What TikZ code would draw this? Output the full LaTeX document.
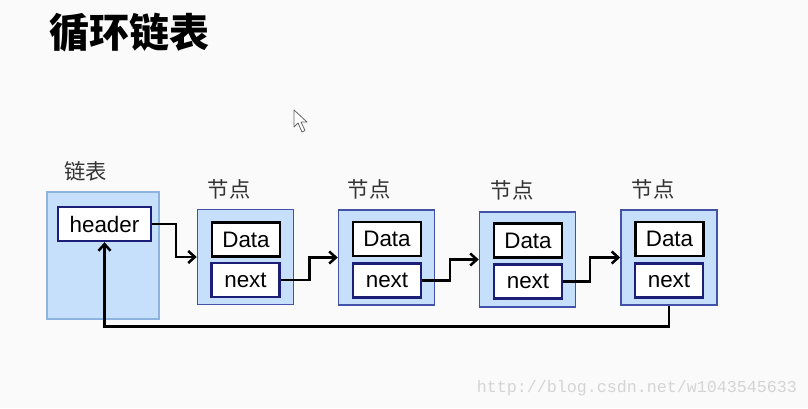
\documentclass[tikz,border=0pt]{standalone}
\usepackage{fontspec}
\setmainfont{Liberation Sans}
\newfontfamily\cjk{Noto Sans CJK SC}
\newfontfamily\urlfont{Liberation Mono}
\usetikzlibrary{calc, arrows.meta}

\definecolor{boxfill}{HTML}{C6E0FB}
\definecolor{listedge}{HTML}{8FB3DF}
\definecolor{nodeedge}{HTML}{4152A8}
\definecolor{navy}{HTML}{1C1F78}
\definecolor{pagegray}{HTML}{FAFAFA}
\definecolor{markgray}{HTML}{D4D4D4}

\begin{document}
\begin{tikzpicture}[x=0.75pt, y=-0.75pt,
        nodebox/.style={draw=nodeedge, line width=1.1pt, fill=boxfill, minimum width=72pt, minimum height=71pt, inner sep=0pt},
        field/.style={draw=navy, line width=1.8pt, fill=white, minimum width=51pt, minimum height=25.5pt, inner sep=0pt, font=\fontsize{16.8}{19}\selectfont},
        cnlabel/.style={font=\cjk\fontsize{16}{19}\selectfont, text=black!80},
        link/.style={line width=1.9pt, -{Straight Barb[length=5pt, width=9pt]}}]
        \fill[pagegray] (0,0) rectangle (808,408);
        \useasboundingbox (0,0) rectangle (808,408);

        \coordinate (L) at (103,255.5);
        \coordinate (H) at (104.5,224);
        \coordinate (N1) at (245.5,257);
        \coordinate (N2) at (386.5,257.5);
        \coordinate (N3) at (527.5,259.5);
        \coordinate (N4) at (669,257.5);

        \node (title) at (130,33) {\cjk\bfseries\fontsize{30}{34}\selectfont 循环链表};

        \node[draw=listedge, line width=1.1pt, fill=boxfill, minimum width=84pt, minimum height=95pt, inner sep=0pt] (list) at (L) {};
        \node[cnlabel] (listlabel) at (86,171) {链表};
        \node[field, minimum width=69.75pt] (head) at (H) {header};

        \node[nodebox] (n1) at (N1) {};
        \node[nodebox] (n2) at (N2) {};
        \node[nodebox] (n3) at (N3) {};
        \node[nodebox] (n4) at (N4) {};

        \node[cnlabel] (l1) at (229,189) {节点};
        \node[cnlabel] (l2) at (369,189) {节点};
        \node[cnlabel] (l3) at (512,190) {节点};
        \node[cnlabel] (l4) at (653,189) {节点};

        \node[field, draw=black] (d1) at ($(N1)+(0.5,-17.5)$) {Data};
        \node[field] (x1) at ($(N1)+(0,23)$) {next};
        \node[field, draw=black] (d2) at ($(N2)+(0.5,-18.5)$) {Data};
        \node[field] (x2) at ($(N2)+(0.5,23)$) {next};
        \node[field, draw=black] (d3) at ($(N3)+(0.5,-19)$) {Data};
        \node[field] (x3) at ($(N3)+(0.5,22)$) {next};
        \node[field, draw=black] (d4) at ($(N4)+(0.5,-18.5)$) {Data};
        \node[field] (x4) at ($(N4)+(0,23)$) {next};

        \draw[link] (head.east) -- ++(24,0) |- (n1.west);
        \draw[link] (x1.east) -- ++(29,0) |- (n2.west);
        \draw[link] (x2.east) -- ++(28,0) |- (n3.west);
        \draw[link] (x3.east) -- ++(27,0) |- (n4.west);
        \draw[link] (x4 |- n4.south) -- ++(0,21) -| (head.south);

        \filldraw[fill=white, draw=black!60, line width=0.6pt, line join=round]
            (294,110) -- (294,127) -- (298,123) -- (302,132) -- (305,130.5) -- (301,122) -- (307,122) -- cycle;

        \node[font=\urlfont\fontsize{12.5}{15}\selectfont, text=markgray] (mark) at (637,388) {http://blog.csdn.net/w1043545633};
\end{tikzpicture}
\end{document}
